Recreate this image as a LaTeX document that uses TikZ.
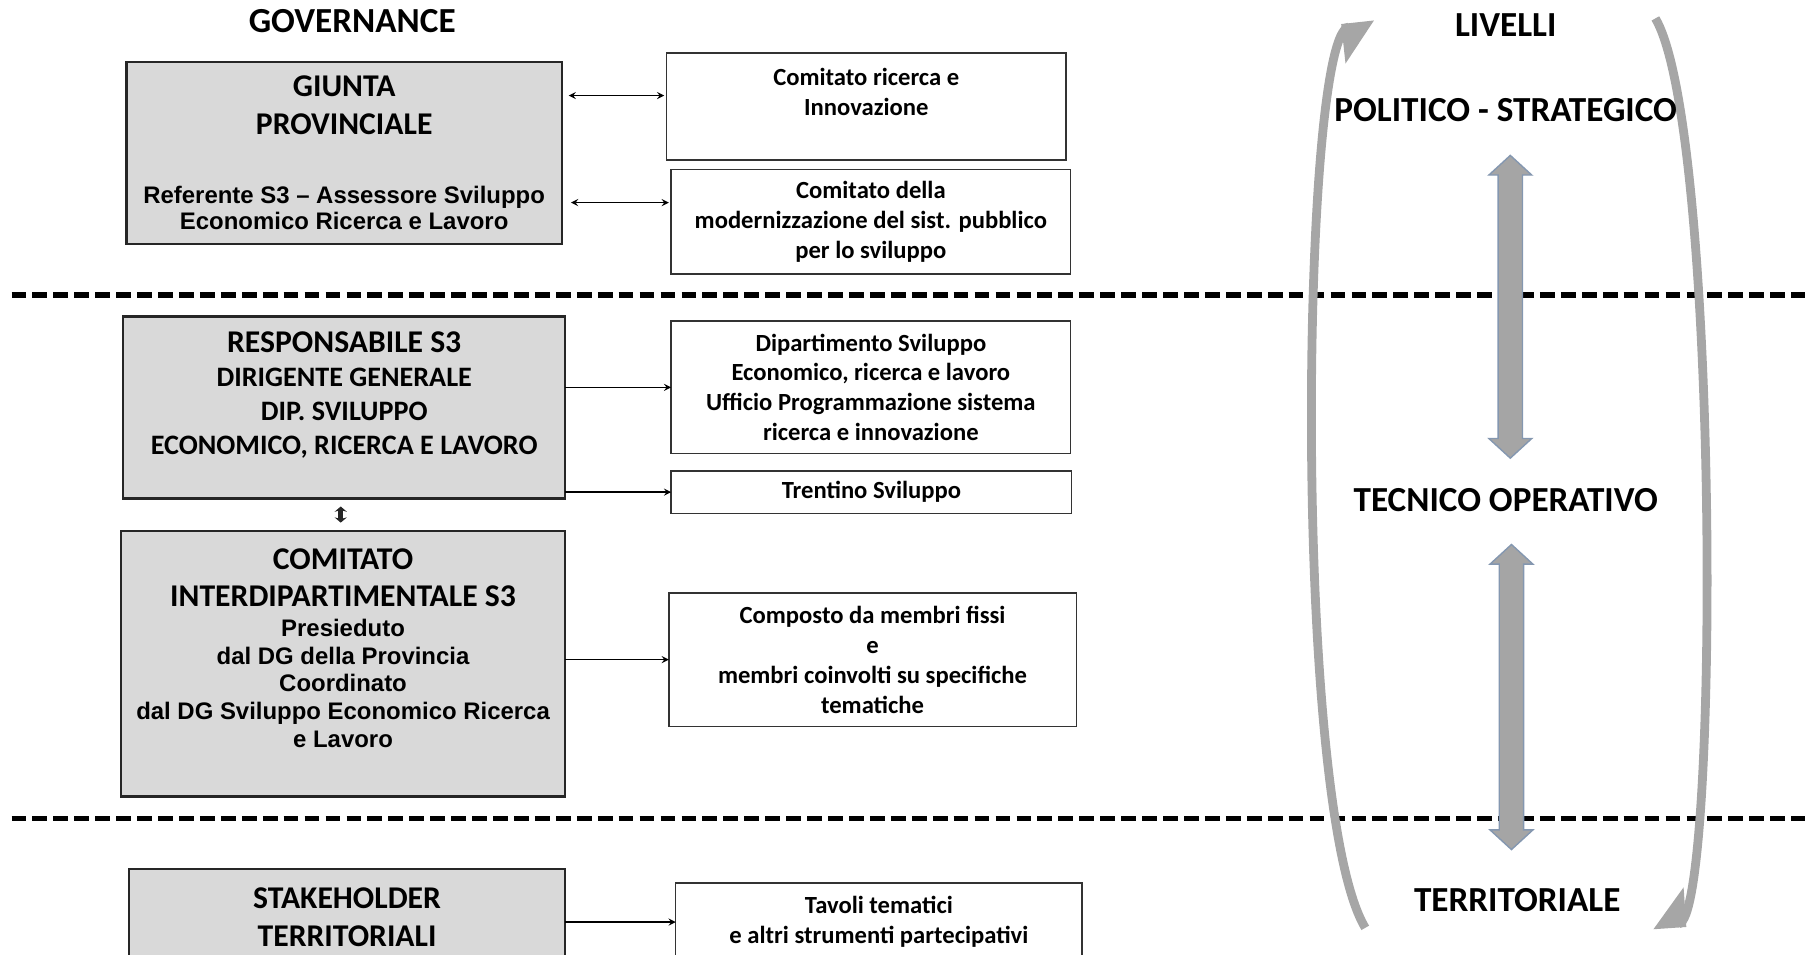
\documentclass[tikz,border=0pt]{standalone}
\usepackage{fontspec}
\setmainfont{Carlito}
\newfontfamily\arialfont{Liberation Sans}
\usepackage{xcolor}
\usepackage{tikz}
\usetikzlibrary{shapes.arrows, arrows, arrows.meta, positioning, calc}
\tikzstyle{arrow} = [->,>=stealth]
\tikzstyle{biarrow} = [<->,>=stealth]
\tikzset{boxdim/.style 2 args={minimum width=#1*0.023cm, minimum height=#2*0.023cm}}

\definecolor{boxgray}{HTML}{D9D9D9}
\definecolor{arcgray}{HTML}{A6A6A6}
\definecolor{lvgray}{HTML}{A5A5A5}
\definecolor{lvedge}{HTML}{8497B0}

\newcommand\hdfont{\rmfamily\bfseries\fontsize{18}{21.6}\selectfont}
\newcommand\subfont{\rmfamily\bfseries\fontsize{16}{19.4}\selectfont}
\newcommand\arfont{\arialfont\bfseries\fontsize{13.6}{15.7}\selectfont}
\newcommand\smfont{\rmfamily\bfseries\fontsize{14}{17}\selectfont}
\newcommand\lvfont{\rmfamily\bfseries\fontsize{20}{24}\selectfont}

\begin{document}
\begin{tikzpicture}[x=0.023cm, y=-0.023cm,
            graybox/.style={rectangle, fill=boxgray, draw=black!85, line width=1.3pt, inner sep=0pt, outer sep=0pt, align=center},
            whitebox/.style={rectangle, fill=white, draw=black!80, line width=0.8pt, inner sep=0pt, outer sep=0pt, align=center, font=\smfont},
            level/.style={font=\lvfont, inner sep=0pt},
            levarrow/.style={double arrow, rotate=90, fill=lvgray, draw=lvedge, line width=0.8pt, inner xsep=0pt, inner ysep=10*0.023cm, double arrow head extend=8*0.023cm, double arrow tip angle=95},
            sepline/.style={line width=3.2pt, dash pattern=on 8.4pt off 3.5pt},
            grayarc/.style={arcgray, line width=5pt, -{Triangle[right, length=17pt, width=40pt]}},
            line/.style={line width=0.8pt}]
    \useasboundingbox (0,0) rectangle (1568,829);

    % Level separators
    \coordinate (sep1w) at (10,256);
    \coordinate (sep1e) at (1568,256);
    \coordinate (sep2w) at (10,711);
    \coordinate (sep2e) at (1568,711);
    \draw[sepline] (sep1w) -- (sep1e);
    \draw[sepline] (sep2w) -- (sep2e);

    % Cycle arcs
    \coordinate (arcLs) at (1186,806);
    \coordinate (arcLe) at (1194,21);
    \coordinate (arcRs) at (1438,16);
    \coordinate (arcRe) at (1436,804);
    \draw[grayarc] (arcLs) .. controls (1122,700) and (1130,28) .. (arcLe);
    \draw[grayarc] (arcRs) .. controls (1494,110) and (1494,800) .. (arcRe);

    % Governance column
    \node[font=\lvfont, inner sep=0pt] (gov) at (306,18) {GOVERNANCE};
    \node[graybox, font=\arfont, boxdim={378}{158}] (giunta) at (299,133) {\hdfont GIUNTA\\[5.9pt]\hdfont PROVINCIALE\\[23.3pt]Referente S3 – Assessore Sviluppo\\[-0.7pt]Economico Ricerca e Lavoro};
    \node[graybox, font=\subfont, boxdim={384}{158}] (resp) at (299,354) {\hdfont RESPONSABILE S3\\DIRIGENTE GENERALE\\DIP. SVILUPPO\\ECONOMICO, RICERCA E LAVORO\\[-3pt]\mbox{}};
    \node[graybox, font=\arfont, boxdim={386}{231}] (comit) at (298,576.5) {\hdfont COMITATO\\[5.3pt]\hdfont INTERDIPARTIMENTALE S3\\[1.3pt]Presieduto\\dal DG della Provincia\\Coordinato\\dal DG Sviluppo Economico Ricerca\\e Lavoro\\[2pt]\mbox{}};
    \node[graybox, font=\hdfont, boxdim={379}{83}] (stake) at (301.5,796.5) {STAKEHOLDER\\TERRITORIALI};

    % Bodies on the right
    \node[whitebox, boxdim={347}{93}] (comric) at (752.5,92.5) {Comitato ricerca e\\Innovazione\\[-0.5pt]\mbox{}};
    \node[whitebox, boxdim={347}{91}] (commod) at (756.5,192.5) {Comitato della\\modernizzazione del sist. pubblico\\per lo sviluppo};
    \node[whitebox, boxdim={347}{115}] (dip) at (756.5,336.5) {Dipartimento Sviluppo\\Economico, ricerca e lavoro\\Ufficio Programmazione sistema\\ricerca e innovazione};
    \node[whitebox, boxdim={348}{37}] (trent) at (757,427.5) {Trentino Sviluppo};
    \node[whitebox, boxdim={354}{116}] (comp) at (758,573) {Composto da membri fissi\\e\\membri coinvolti su specifiche\\tematiche};
    \node[whitebox, boxdim={353}{68}] (tavoli) at (763.5,801) {Tavoli tematici\\e altri strumenti partecipativi};

    % Arrows
    \draw[biarrow, line] ([shift={(6,-50)}]giunta.east) -- ([shift={(-2,-9.5)}]comric.west);
    \draw[biarrow, line] ([shift={(8,43)}]giunta.east) -- ([shift={(-2,-16.5)}]commod.west);
    \draw[arrow, line] (resp.east |- dip.west) -- (dip.west);
    \draw[arrow, line] (resp.east |- trent.west) -- (trent.west);
    \draw[arrow, line] (comit.east |- comp.west) -- (comp.west);
    \draw[arrow, line] (stake.east |- tavoli.west) -- (tavoli.west);
    \draw[{Stealth[length=3pt, width=7pt]}-{Stealth[length=3pt, width=7pt]}, line width=2.6pt, black!85] ([shift={(-3,7)}]resp.south) -- ([shift={(-2,-7)}]comit.north);

    % Levels
    \node[level] (livelli) at (1308,22) {LIVELLI};
    \node[level] (polit) at (1308,96) {POLITICO - STRATEGICO};
    \node[level] (tecn) at (1308,434) {TECNICO OPERATIVO};
    \node[level] (territ) at (1318,782) {TERRITORIALE};
    \node[levarrow, minimum height=263*0.023cm] (lev1) at (1312,266.5) {};
    \node[levarrow, minimum height=265*0.023cm] (lev2) at (1313,605.5) {};
\end{tikzpicture}
\end{document}
